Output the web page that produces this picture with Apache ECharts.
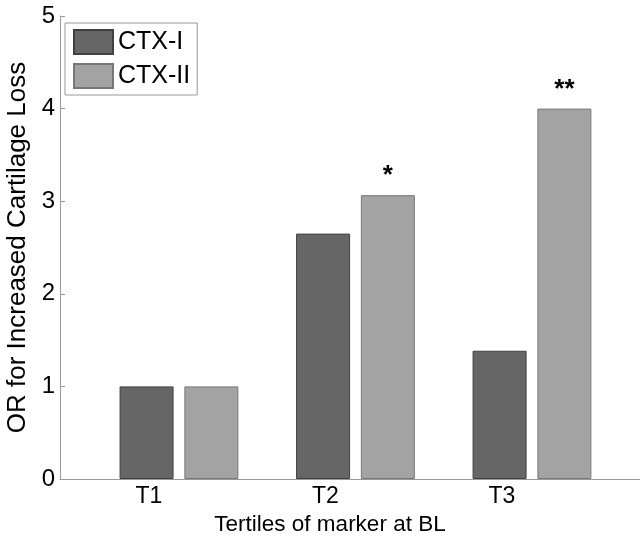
<!DOCTYPE html>
<html>
<head>
<meta charset="utf-8">
<script src="https://cdn.jsdelivr.net/npm/echarts@6/dist/echarts.min.js"></script>
<style>html,body{margin:0;padding:0;background:#fff}#c{width:640px;height:538px}</style>
</head>
<body>
<div id="c"></div>
<script>
const categories = ['T1', 'T2', 'T3'];
const categoryPos = [1, 2, 3];
const ctx1 = [1.0, 2.65, 1.385];
const ctx2 = [1.0, 3.065, 4.0];
const significance = ['', '*', '**'];
const yTicks = [0, 1, 2, 3, 4, 5];

const FONT = '"Liberation Sans", Arial, sans-serif';
const chart = echarts.init(document.getElementById('c'));
chart.setOption({
  animation: false,
  backgroundColor: '#ffffff',
  textStyle: { fontFamily: FONT },
  grid: { left: 60, right: 0, top: 16, bottom: 59, outerBoundsMode: 'none', containLabel: false },
  legend: {
    orient: 'vertical',
    left: 65, top: 23,
    icon: 'rect',
    itemWidth: 39, itemHeight: 24, itemGap: 8,
    padding: [6, 7, 6, 8],
    borderColor: '#999', borderWidth: 1,
    textStyle: { fontSize: 25, color: '#000', fontFamily: FONT },
    data: ['CTX-I', 'CTX-II']
  },
  xAxis: {
    type: 'value', min: 0.326, max: 3.612,
    splitLine: { show: false },
    axisLine: { lineStyle: { color: '#999', width: 1 } },
    axisTick: { show: false },
    axisLabel: {
      customValues: categoryPos.map(p => p - 0.17),
      formatter: v => categories[Math.round(v + 0.17) - 1] || '',
      fontSize: 23, color: '#000', margin: 6, fontFamily: FONT
    },
    name: 'Tertiles of marker at BL', nameLocation: 'middle', nameGap: 34,
    nameTextStyle: { fontSize: 22.5, color: '#000', fontFamily: FONT, padding: [0, 40, 0, 0] }
  },
  yAxis: {
    type: 'value', min: yTicks[0], max: yTicks[yTicks.length - 1], interval: 1,
    splitLine: { show: false },
    axisLine: { show: true, lineStyle: { color: '#999', width: 1 } },
    axisTick: { show: true, inside: true, length: 5, lineStyle: { color: '#999' } },
    axisLabel: { fontSize: 24, color: '#000', margin: 5, fontFamily: FONT },
    name: 'OR for Increased Cartilage Loss', nameLocation: 'middle', nameGap: 28,
    nameTextStyle: { fontSize: 26, color: '#000', fontFamily: FONT }
  },
  series: [
    {
      name: 'CTX-I', type: 'bar', barWidth: 54, barGap: '20%',
      itemStyle: { color: '#666666', borderColor: '#404040', borderWidth: 1 },
      data: categoryPos.map((p, i) => [p, ctx1[i]])
    },
    {
      name: 'CTX-II', type: 'bar', barWidth: 54,
      itemStyle: { color: '#a3a3a3', borderColor: '#777777', borderWidth: 1 },
      label: {
        show: true, position: 'top', distance: 12,
        formatter: p => significance[p.dataIndex],
        fontSize: 26, fontWeight: 'bold', color: '#000', fontFamily: FONT,
        lineHeight: 26, padding: [0, 0, -6, 0]
      },
      data: categoryPos.map((p, i) => [p, ctx2[i]])
    }
  ]
});
</script>
</body>
</html>
